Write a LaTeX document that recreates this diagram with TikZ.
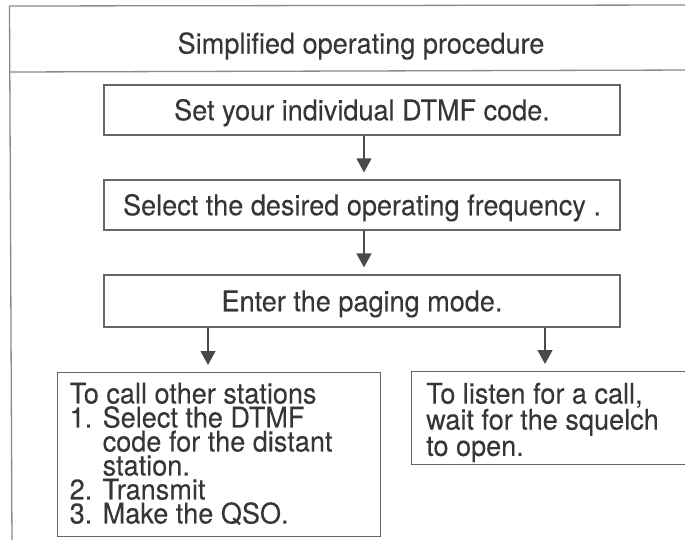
\documentclass[tikz,border=0pt]{standalone}
\usepackage{fontspec}
\setmainfont{TeX Gyre Heros}[FakeStretch=0.95,FakeBold=0.12]
\usetikzlibrary{arrows.meta}
\definecolor{linegray}{HTML}{666666}
\definecolor{framegray}{HTML}{8A8A8A}
\definecolor{textgray}{HTML}{363636}
\begin{document}
\begin{tikzpicture}[x=1pt,y=-1pt,
  framestyle/.style={draw=framegray, line width=1.3pt},
  stepbox/.style={draw=linegray, line width=1.2pt, minimum width=516pt,
    minimum height=50pt, inner sep=0pt, text height=20.5pt, text depth=0pt,
    font=\fontsize{28.5}{24}\selectfont, text=textgray},
  bigbox/.style={draw=linegray, line width=1.2pt, anchor=north west, inner sep=0pt},
  boxtext/.style={anchor=north west, inner sep=0pt, align=left,
    font=\fontsize{28.5}{24}\selectfont, text=textgray},
  arr/.style={draw=textgray!90, line width=1.2pt,
    -{Triangle[width=15pt,length=14pt]}, shorten >=7pt}
]
\useasboundingbox (0,0) rectangle (685,539);
\clip (0,0) rectangle (685,539);

% outer frame
\coordinate (ftl) at (9.5,6);
\coordinate (ftr) at (695,5);
\coordinate (fbl) at (12,545);
\coordinate (fsl) at (10,72);
\coordinate (fsr) at (695,70);
\draw[framestyle] (ftr) -- (ftl) -- (fbl);
\draw[framestyle] (fsl) -- (fsr);

% title
\node[anchor=base, inner sep=0pt, font=\fontsize{28.5}{24}\selectfont, text=textgray]
  (title) at (361,53.5) {Simplified operating procedure};

% steps
\node[stepbox] (b1) at (362,110) {Set your individual DTMF code.};
\node[stepbox] (b2) at (362,205) {Select the desired operating frequency .};
\node[stepbox, minimum height=52pt] (b3) at (362,301) {Enter the paging mode.};

% lower boxes
\node[bigbox, minimum width=323pt, minimum height=164pt] (b4) at (57,372) {};
\node[bigbox, minimum width=284pt, minimum height=93pt] (b5) at (411,371) {};

\node[boxtext] (t4) at ([xshift=12.5pt,yshift=-10.5pt]b4.north west)
  {To call other stations\\
   \makebox[33pt][l]{1.}Select the DTMF\\
   \hspace*{33pt}code for the distant\\
   \hspace*{33pt}station.\\
   \makebox[33pt][l]{2.}Transmit\\
   \makebox[33pt][l]{3.}Make the QSO.};

\node[boxtext] (t5) at ([xshift=15pt,yshift=-11.5pt]b5.north west)
  {To listen for a call,\\
   wait for the squelch\\
   to open.};

% arrows
\coordinate (xa) at (364,0);
\coordinate (xl) at (208,0);
\coordinate (xr) at (545,0);
\draw[arr] (b1.south -| xa) -- (b2.north -| xa);
\draw[arr] (b2.south -| xa) -- (b3.north -| xa);
\draw[arr] (b3.south -| xl) -- (b4.north -| xl);
\draw[arr] (b3.south -| xr) -- (b5.north -| xr);
\end{tikzpicture}
\end{document}
